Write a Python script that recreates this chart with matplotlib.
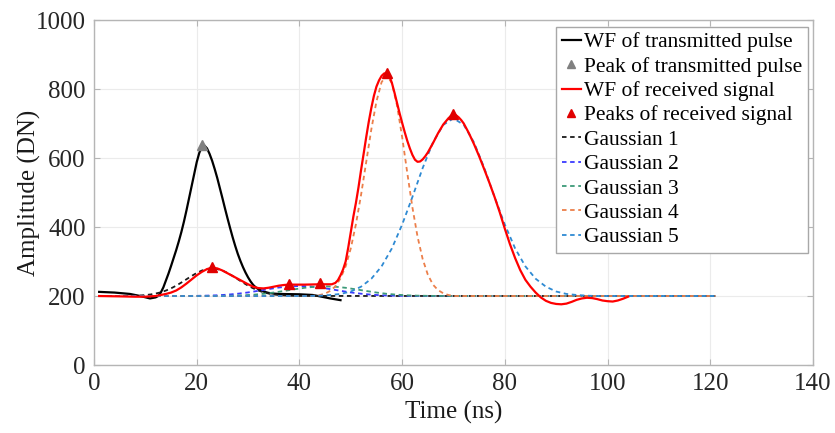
import matplotlib.pyplot as plt

plt.rcParams['font.family'] = ['Liberation Serif', 'DejaVu Serif']

# transmitted pulse waveform
tx_t = [1, 4, 7, 9, 10.9, 12, 12.5, 13, 13.5, 14, 14.5, 15, 15.5, 16, 16.5, 17, 17.5, 18, 18.5, 19,
        19.5, 20, 20.5, 21, 21.5, 22, 22.5, 23, 23.5, 24, 24.5, 25, 25.5, 26, 26.5, 27, 27.5, 28,
        28.5, 29, 29.5, 30, 30.5, 31, 31.5, 32, 33, 34, 35, 36, 40, 42.6, 44, 46, 48]
tx_a = [212, 210, 206, 200, 193, 196, 200, 210, 225, 245, 265, 287, 310, 333, 358, 385, 415, 448,
        483, 518, 553, 588, 615, 632, 636, 628, 612, 592, 568, 542, 513, 484, 454, 425, 397, 370,
        345, 322, 302, 284, 268, 254, 242, 232, 225, 220, 213, 209, 207, 206, 205, 203, 199, 193,
        188]
tx_peak_t = [21]
tx_peak_a = [638]

# received signal waveform
rx_t = [1, 5, 8, 10, 12, 13, 14, 15, 16, 17, 18, 19, 20, 21, 22, 23, 24, 25, 26, 27, 28, 29, 30,
        31, 32, 33, 34, 35, 36, 37, 38, 41, 44, 46.3, 47, 47.5, 48, 48.5, 49, 49.5, 50, 50.5, 51,
        51.5, 52, 52.5, 53, 53.5, 54, 54.5, 55, 55.5, 56, 56.5, 57, 57.5, 58, 58.5, 59, 59.5, 60,
        60.5, 61, 61.5, 62, 62.5, 63, 63.5, 64, 64.5, 65, 66, 67, 68, 69, 69.5, 70, 70.5, 71, 71.5,
        72, 73, 74, 75, 76, 77, 78, 79, 80, 81, 82, 83, 84, 85, 86, 87, 88, 89, 90, 91, 92, 93, 94,
        95, 96, 97, 98, 99, 100, 101, 102, 103, 104]
rx_a = [200, 199, 198, 198, 200, 203, 206, 210, 216, 225, 236, 248, 260, 270, 278, 282, 280, 274,
        266, 258, 250, 242, 234, 227, 223, 222, 224, 227, 230, 232, 233, 233, 234, 234, 238, 246,
        260, 277, 300, 340, 385, 430, 470, 515, 565, 612, 660, 705, 745, 780, 807, 825, 838, 845,
        846, 838, 818, 790, 760, 730, 702, 675, 650, 628, 609, 595, 589, 590, 596, 605, 616, 643,
        672, 697, 715, 722, 725, 724, 718, 710, 700, 672, 640, 605, 567, 528, 487, 443, 395, 350,
        310, 275, 247, 227, 210, 196, 186, 180, 177, 176, 178, 183, 189, 193, 195, 194, 191, 187,
        185, 184, 187, 192, 198]
rx_peak_t = [23, 38, 44, 57, 70]
rx_peak_a = [283, 235, 237, 845, 727]

# gaussian components
g1_t = [1, 6, 7, 8, 9, 10, 11, 12, 13, 14, 15, 16, 17, 18, 19, 20, 21, 22, 23, 24, 25, 26, 27, 28,
        29, 30, 31, 32, 33, 34, 35, 36, 37, 38, 39, 40, 121]
g1_a = [200, 200.2, 200.5, 200.9, 201.6, 202.7, 204.5, 207.1, 210.8, 215.8, 222.2, 230, 239, 248.5,
        258.1, 266.8, 273.8, 278.4, 280, 278.4, 273.8, 266.8, 258.1, 248.5, 239, 230, 222.2,
        215.8, 210.8, 207.1, 204.5, 202.7, 201.6, 200.9, 200.5, 200.2, 200]
g2_t = [1, 18, 20, 22, 24, 26, 28, 30, 32, 34, 36, 38, 40, 42, 44, 46, 48, 50, 52, 54, 56, 58, 60,
        62, 121]
g2_a = [200, 200.2, 200.5, 201.1, 202.1, 203.9, 206.7, 210.4, 215.1, 220.1, 224.6, 227.8, 229,
        227.8, 224.6, 220.1, 215.1, 210.4, 206.7, 203.9, 202.1, 201.1, 200.5, 200.2, 200]
g3_t = [1, 23, 25, 27, 29, 31, 33, 35, 37, 39, 41, 43, 45, 47, 49, 51, 53, 55, 57, 59, 61, 63, 65,
        67, 121]
g3_a = [200, 200.2, 200.5, 201, 202, 203.8, 206.4, 210.1, 214.6, 219.4, 223.8, 226.9, 228, 226.9,
        223.8, 219.4, 214.6, 210.1, 206.4, 203.8, 202, 201, 200.5, 200.2, 200]
g4_t = [1, 42, 43, 44, 45, 46, 47, 48, 49, 50, 51, 52, 53, 54, 55, 56, 57, 58, 59, 60, 61, 62, 63,
        64, 65, 66, 67, 68, 69, 70, 121]
g4_a = [200, 200, 201, 203, 207, 215, 228, 251, 286, 338, 408, 493, 588, 683, 764, 820, 840, 817,
        753, 661, 557, 457, 372, 307, 262, 233, 217, 208, 203, 200, 200]
g5_t = [1, 42, 44, 46, 48, 50, 52, 54, 56, 58, 60, 62, 64, 66, 68, 70, 72, 74, 76, 78, 80, 82, 84,
        86, 88, 90, 92, 94, 96, 98, 121]
g5_a = [200, 200, 201, 203, 206, 213, 227, 250, 286, 338, 407, 487, 571, 645, 696, 715, 696, 645,
        571, 487, 407, 338, 286, 250, 227, 213, 206, 203, 201, 200, 200]

gauss = [(g1_t, g1_a, '#1a1a1a', 'Gaussian 1'),
         (g2_t, g2_a, '#3a3aff', 'Gaussian 2'),
         (g3_t, g3_a, '#3d9a78', 'Gaussian 3'),
         (g4_t, g4_a, '#ec7f4a', 'Gaussian 4'),
         (g5_t, g5_a, '#2e8ad3', 'Gaussian 5')]

fig = plt.figure(figsize=(8.35, 4.33), dpi=100)
ax = fig.add_axes([0.1126, 0.157, 0.861, 0.7968])

h_tx, = ax.plot(tx_t, tx_a, color='black', lw=1.6, label='WF of transmitted pulse', zorder=3)
h_txp, = ax.plot(tx_peak_t, tx_peak_a, ls='none', marker='^', ms=6.5, color='#808080',
                 label='Peak of transmitted pulse', zorder=5)
h_rx, = ax.plot(rx_t, rx_a, color='#ff0000', lw=1.6, label='WF of received signal', zorder=4)
h_rxp, = ax.plot(rx_peak_t, rx_peak_a, ls='none', marker='^', ms=6.5, color='#e00000',
                 label='Peaks of received signal', zorder=5)
handles = [h_tx, h_txp, h_rx, h_rxp]
for gt, ga, c, lab in gauss:
    h, = ax.plot(gt, ga, color=c, lw=1.3, ls=(0, (2.5, 2)), label=lab, zorder=3)
    handles.append(h)

ax.set_xlim(0, 140)
ax.set_ylim(0, 1000)
ax.set_xticks(range(0, 141, 20))
ax.set_yticks(range(0, 1001, 200))
ax.grid(True, color='#ebebeb', lw=0.8)
ax.set_axisbelow(True)
for s in ax.spines.values():
    s.set_color('#b5b5b5')
    s.set_linewidth(1.0)
ax.tick_params(direction='in', length=4, color='#b5b5b5', labelsize=18, labelcolor='#262626',
               pad=6, top=True, right=True, labeltop=False, labelright=False)

ax.set_xlabel('Time (ns)', fontsize=18, color='#1a1a1a', labelpad=4)
ax.set_ylabel('Amplitude (DN)', fontsize=18, color='#1a1a1a', labelpad=-4)

leg = ax.legend(handles=handles, loc='upper right', bbox_to_anchor=(0.993, 0.98),
                borderaxespad=0, fontsize=15.5, frameon=True, fancybox=False, framealpha=1,
                edgecolor='#a8a8a8', handlelength=0.9, handletextpad=0.15, labelspacing=0.2,
                borderpad=0.25, markerscale=0.9)
leg.get_frame().set_linewidth(1.0)

fig.savefig('out.png', dpi=100)
